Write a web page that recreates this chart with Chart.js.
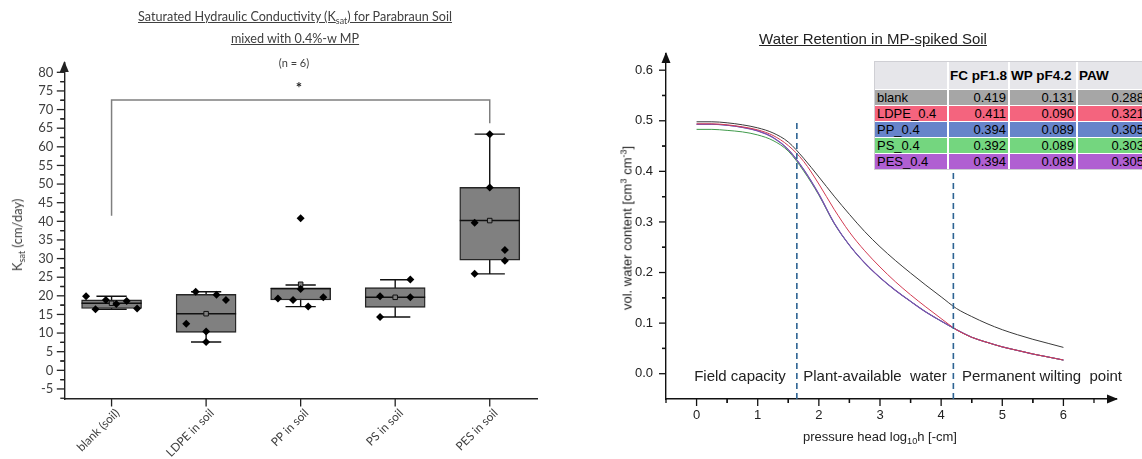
<!DOCTYPE html>
<html>
<head>
<meta charset="utf-8">
<script src="https://cdn.jsdelivr.net/npm/chart.js@4.4.1/dist/chart.umd.min.js"></script>
<style>
  body { margin: 0; background: #fff; }
  #wrap { position: relative; width: 1142px; height: 459px; overflow: hidden; }
  canvas { position: absolute; top: 0; }
  .txt { position: absolute; white-space: pre; text-align: center; }
  .cal { font-family: Lato, 'Open Sans', sans-serif; color: #404040; }
  .ari { font-family: 'Liberation Sans', Arial, sans-serif; color: #222; }
  .rot { transform: translate(-50%, -50%) rotate(-90deg); }
  sub { font-size: 70%; vertical-align: -0.3em; line-height: 0; }
  sup { font-size: 70%; vertical-align: 0.5em; line-height: 0; }
  #tbl { position: absolute; left: 874px; top: 61px; display: grid;
         grid-template-columns: 72px 59px 66px 68px; grid-template-rows: 27px repeat(5, 15px);
         column-gap: 2px; row-gap: 1px; border: 1px solid #cfcfd4; background: #fff;
         font-family: 'Liberation Sans', Arial, sans-serif; font-size: 13px; color: #000; }
  #tbl div { line-height: 15px; padding: 0 2px; white-space: pre; }
  #tbl .h { background: #e6e6ea; font-weight: bold; font-size: 13.5px; line-height: 27px; padding: 0 0 0 1px; overflow: hidden; }
  #tbl .n { text-align: right; }
</style>
</head>
<body>
<div id="wrap">
  <canvas id="ksat" width="560" height="459" style="left:0"></canvas>
  <canvas id="retention" width="562" height="459" style="left:580px"></canvas>

  <div class="txt cal" style="left:-5px;width:600px;top:8px;font-size:12.6px;line-height:18px;text-decoration:underline">Saturated Hydraulic Conductivity (K<sub>sat</sub>) for Parabraun Soil</div>
  <div class="txt cal" style="left:-5px;width:600px;top:30px;font-size:12.6px;line-height:18px;text-decoration:underline">mixed with 0.4%-w MP</div>
  <div class="txt cal" style="left:-6px;width:600px;top:55px;font-size:11px;line-height:16px">(n = 6)</div>
  <div class="txt cal" style="left:199px;width:200px;top:79px;font-size:15px;line-height:16px;font-weight:bold;color:#222">*</div>
  <div class="txt cal rot" style="left:17px;top:235px;font-size:13px">K<sub>sat</sub> (cm/day)</div>

  <div class="txt ari" style="left:573px;width:600px;top:29px;font-size:15px;line-height:20px;text-decoration:underline">Water Retention in MP-spiked Soil</div>
  <div class="txt ari rot" style="left:627px;top:228px;font-size:13px">vol. water content [cm<sup>3</sup> cm<sup>-3</sup>]</div>
  <div class="txt ari" style="left:730px;width:300px;top:428px;font-size:13px;line-height:18px">pressure head log<sub>10</sub>h [-cm]</div>
  <div class="txt ari" style="left:640px;width:200px;top:366px;font-size:15px;line-height:20px">Field capacity</div>
  <div class="txt ari" style="left:775px;width:200px;top:366px;font-size:15px;line-height:20px">Plant-available  water</div>
  <div class="txt ari" style="left:942px;width:200px;top:366px;font-size:15px;line-height:20px">Permanent wilting  point</div>

  <div id="tbl"></div>
</div>
<script>
// ---- left chart: Ksat box plots ----
const categories = ['blank (soil)', 'LDPE in soil', 'PP in soil', 'PS in soil', 'PES in soil'];
const boxQ1 = [16.6, 10.2, 18.9, 16.9, 29.6];
const boxQ3 = [18.9, 20.4, 22.0, 22.2, 49.1];
const boxMedian = [18.0, 15.2, 22.0, 19.6, 40.2];
const boxMean = [18.0, 15.2, 23.1, 19.6, 40.2];
const whiskerLow = [16.4, 7.6, 17.1, 14.3, 25.9];
const whiskerHigh = [19.9, 21.1, 22.9, 24.3, 63.4];

const blankKsat = [19.9, 16.4, 18.9, 17.8, 18.6, 16.6];
const ldpeKsat = [12.5, 21.1, 10.4, 7.6, 20.3, 18.9];
const ppKsat = [19.3, 18.9, 40.8, 21.8, 17.1, 19.6];
const psKsat = [14.3, 19.9, 24.4, 19.6];
const pesKsat = [63.4, 49.1, 39.6, 32.3, 29.4, 25.9];
const groupKsat = [blankKsat, ldpeKsat, ppKsat, psKsat, pesKsat];

// horizontal spread of the points inside each group (x units)
const jitter = [
    [-0.27, -0.17, -0.06, 0.05, 0.16, 0.27],
    [-0.21, -0.11, 0, 0, 0.11, 0.21],
    [-0.24, -0.08, 0, 0, 0.08, 0.24],
    [-0.16, -0.16, 0.16, 0.16],
    [0, 0, -0.16, 0.16, 0.16, -0.16]
];

// significance bracket blank vs PES
const bracketX = [1, 1, 5, 5];
const bracketY = [41.5, 72.6, 72.6, 66.3];

// ---- right chart: water retention curves ----
const pF = [0, 0.25, 0.5, 0.75, 1, 1.25, 1.5, 1.75, 2, 2.25, 2.5, 2.75, 3, 3.25, 3.5, 3.75, 4, 4.25, 4.5, 4.75, 5, 5.25, 5.5, 5.75, 6];
const thetaBlank = [0.498, 0.498, 0.496, 0.492, 0.486, 0.476, 0.458, 0.426, 0.389, 0.351, 0.315, 0.281, 0.251, 0.224, 0.199, 0.175, 0.152, 0.129, 0.113, 0.099, 0.087, 0.077, 0.068, 0.060, 0.052];
const thetaLdpe = [0.494, 0.494, 0.492, 0.488, 0.482, 0.471, 0.451, 0.420, 0.375, 0.325, 0.280, 0.243, 0.211, 0.182, 0.156, 0.132, 0.109, 0.087, 0.072, 0.062, 0.053, 0.046, 0.039, 0.033, 0.027];
const thetaPp = [0.493, 0.493, 0.491, 0.487, 0.480, 0.467, 0.443, 0.404, 0.355, 0.298, 0.254, 0.219, 0.190, 0.165, 0.143, 0.122, 0.104, 0.087, 0.072, 0.062, 0.053, 0.046, 0.039, 0.033, 0.027];
const thetaPs = [0.483, 0.483, 0.481, 0.478, 0.472, 0.461, 0.440, 0.401, 0.353, 0.297, 0.254, 0.219, 0.190, 0.165, 0.143, 0.122, 0.104, 0.087, 0.072, 0.062, 0.053, 0.046, 0.039, 0.033, 0.027];
const thetaPes = [0.493, 0.493, 0.491, 0.487, 0.480, 0.467, 0.443, 0.404, 0.355, 0.298, 0.254, 0.219, 0.190, 0.165, 0.143, 0.122, 0.104, 0.087, 0.072, 0.062, 0.053, 0.046, 0.039, 0.033, 0.027];
const boundaryPf = [1.64, 4.2];

// table values
const tableRows = ['blank', 'LDPE_0.4', 'PP_0.4', 'PS_0.4', 'PES_0.4'];
const tableFc = [0.419, 0.411, 0.394, 0.392, 0.394];
const tableWp = [0.131, 0.090, 0.089, 0.089, 0.089];
const tablePaw = [0.288, 0.321, 0.305, 0.303, 0.305];
const rowColors = ['#a6a6a6', '#f4647e', '#6784ca', '#74d67f', '#b05fd2'];

// table
const tbl = document.getElementById('tbl');
let html = '<div class="h"></div><div class="h">FC pF1.8</div><div class="h">WP pF4.2</div><div class="h">PAW</div>';
tableRows.forEach((r, i) => {
    const bg = `style="background:${rowColors[i]}"`;
    html += `<div ${bg}>${r}</div><div class="n" ${bg}>${tableFc[i].toFixed(3)}</div>` +
            `<div class="n" ${bg}>${tableWp[i].toFixed(3)}</div><div class="n" ${bg}>${tablePaw[i].toFixed(3)}</div>`;
});
tbl.innerHTML = html;

// ticks (major from the scale, minor half-way), axis arrows
const axisDecor = {
    id: 'axisDecor',
    afterDraw(chart, args, o) {
        const ctx = chart.ctx;
        const { left, right, top, bottom } = chart.chartArea;
        const xs = chart.scales.x, ys = chart.scales.y;
        ctx.save();
        ctx.strokeStyle = o.color;
        ctx.fillStyle = o.color;
        ctx.lineWidth = 1.3;
        const tick = (x1, y1, x2, y2) => { ctx.beginPath(); ctx.moveTo(x1, y1); ctx.lineTo(x2, y2); ctx.stroke(); };

        const yStep = ys.ticks[1].value - ys.ticks[0].value;
        ys.ticks.forEach(t => {
            const p = ys.getPixelForValue(t.value);
            tick(left - o.major, p, left, p);
            [t.value - yStep / 2, t.value + yStep / 2].forEach(v => {
                if (v > ys.min && v < ys.max) {
                    const q = ys.getPixelForValue(v);
                    tick(left - o.minor, q, left, q);
                }
            });
        });
        const xStep = xs.ticks.length > 1 ? xs.ticks[1].value - xs.ticks[0].value : 1;
        xs.ticks.forEach(t => {
            const p = xs.getPixelForValue(t.value);
            tick(p, bottom, p, bottom + o.major);
            if (o.xMinor) {
                [t.value - xStep / 2, t.value + xStep / 2].forEach(v => {
                    if (v >= xs.min - 1e-6 && v < xs.max) {
                        const q = xs.getPixelForValue(v);
                        tick(q, bottom, q, bottom + o.minor);
                    }
                });
            }
        });
        // arrow on y axis
        ctx.beginPath();
        ctx.moveTo(left, top - 2);
        ctx.lineTo(left - 4.5, top + 9);
        ctx.lineTo(left + 4.5, top + 9);
        ctx.closePath();
        ctx.fill();
        if (o.xArrow) {
            ctx.beginPath();
            ctx.moveTo(right + 2, bottom);
            ctx.lineTo(right - 9, bottom - 4.5);
            ctx.lineTo(right - 9, bottom + 4.5);
            ctx.closePath();
            ctx.fill();
        }
        ctx.restore();
    }
};

// whiskers, caps and medians of the box plots
const capHalf = 0.16;
const boxParts = {
    id: 'boxParts',
    beforeDatasetsDraw(chart) {
        const ctx = chart.ctx, xs = chart.scales.x, ys = chart.scales.y;
        ctx.save();
        ctx.strokeStyle = '#111';
        ctx.lineWidth = 1.4;
        categories.forEach((c, i) => {
            const x = xs.getPixelForValue(i + 1);
            const x0 = xs.getPixelForValue(i + 1 - capHalf), x1 = xs.getPixelForValue(i + 1 + capHalf);
            const lo = ys.getPixelForValue(whiskerLow[i]), hi = ys.getPixelForValue(whiskerHigh[i]);
            ctx.beginPath();
            ctx.moveTo(x, lo); ctx.lineTo(x, hi);
            ctx.moveTo(x0, lo); ctx.lineTo(x1, lo);
            ctx.moveTo(x0, hi); ctx.lineTo(x1, hi);
            ctx.stroke();
        });
        ctx.restore();
    },
    afterDatasetDraw(chart, args) {
        if (args.index !== 0) return;
        const ctx = chart.ctx, ys = chart.scales.y;
        ctx.save();
        ctx.strokeStyle = '#111';
        ctx.lineWidth = 1.4;
        args.meta.data.forEach((bar, i) => {
            const y = ys.getPixelForValue(boxMedian[i]);
            ctx.beginPath();
            ctx.moveTo(bar.x - bar.width / 2, y);
            ctx.lineTo(bar.x + bar.width / 2, y);
            ctx.stroke();
        });
        ctx.restore();
    }
};

const pointData = [];
groupKsat.forEach((vals, g) => vals.forEach((v, k) => pointData.push({ x: g + 1 + jitter[g][k], y: v })));

new Chart(document.getElementById('ksat'), {
    type: 'scatter',
    data: {
        datasets: [
            {
                type: 'bar',
                data: categories.map((c, i) => ({ x: i + 1, y: [boxQ1[i], boxQ3[i]] })),
                backgroundColor: '#808080',
                borderColor: '#262626',
                borderWidth: 1.4,
                borderSkipped: false,
                barThickness: 60,
                order: 3
            },
            {
                type: 'line',
                data: bracketX.map((x, i) => ({ x: x, y: bracketY[i] })),
                borderColor: '#7f7f7f',
                borderWidth: 1.5,
                pointRadius: 0,
                tension: 0,
                order: 4
            },
            {
                data: boxMean.map((m, i) => ({ x: i + 1, y: m })),
                pointStyle: 'rect',
                pointRadius: 3.2,
                backgroundColor: '#808080',
                borderColor: '#111',
                borderWidth: 1,
                order: 2
            },
            {
                data: pointData,
                pointStyle: 'rectRot',
                pointRadius: 4,
                backgroundColor: '#000',
                borderColor: '#000',
                borderWidth: 0,
                order: 1
            }
        ]
    },
    options: {
        responsive: false,
        animation: false,
        layout: { padding: { top: 63, right: 23, left: 0, bottom: 0 } },
        plugins: {
            legend: { display: false },
            tooltip: { enabled: false },
            axisDecor: { color: '#222', major: 7.5, minor: 4, xMinor: false, xArrow: false }
        },
        scales: {
            x: {
                type: 'linear', min: 0.5, max: 5.5, offset: false,
                grid: { display: false, drawTicks: false, offset: false },
                border: { color: '#222', width: 1.4 },
                afterBuildTicks: s => { s.ticks = categories.map((c, i) => ({ value: i + 1 })); },
                ticks: {
                    autoSkip: false,
                    minRotation: 45, maxRotation: 45, padding: 7, labelOffset: 6,
                    color: '#404040', font: { family: 'Lato', size: 11.8 },
                    callback: v => categories[Math.round(v) - 1] || ''
                },
                afterFit: s => { s.height = 60; }
            },
            y: {
                min: -7.7, max: 82.5,
                grid: { display: false, drawTicks: false },
                border: { color: '#222', width: 1.4 },
                ticks: {
                    stepSize: 5, includeBounds: false, padding: 11,
                    color: '#404040', font: { family: 'Lato', size: 13 }
                },
                afterFit: s => { s.width = 64.3; }
            }
        }
    },
    plugins: [axisDecor, boxParts]
});

// ---- right chart ----
const curve = (theta, color, width) => ({
    type: 'line',
    data: pF.map((x, i) => ({ x: x, y: theta[i] })),
    borderColor: color,
    borderWidth: width,
    pointRadius: 0,
    cubicInterpolationMode: 'monotone'
});
const boundary = x => ({
    type: 'line',
    data: [{ x: x, y: -0.05 }, { x: x, y: 0.497 }],
    borderColor: '#2d6393',
    borderWidth: 1.6,
    borderDash: [6, 4],
    pointRadius: 0
});

// Chart.js paints the first dataset on top, so the list runs top -> bottom
new Chart(document.getElementById('retention'), {
    type: 'scatter',
    data: {
        datasets: [
            boundary(boundaryPf[0]),
            boundary(boundaryPf[1]),
            curve(thetaLdpe, '#d23b52', 1),
            curve(thetaPes, '#7f4fae', 1.1),
            curve(thetaPp, '#4862c0', 1),
            curve(thetaPs, '#3f9a4a', 1),
            curve(thetaBlank, '#3a3a3a', 1)
        ]
    },
    options: {
        responsive: false,
        animation: false,
        layout: { padding: { top: 54, right: 26, left: 0, bottom: 0 } },
        plugins: {
            legend: { display: false },
            tooltip: { enabled: false },
            axisDecor: { color: '#111', major: 7, minor: 4, xMinor: true, xArrow: true }
        },
        scales: {
            x: {
                type: 'linear', min: -0.5, max: 6.86,
                grid: { display: false, drawTicks: false },
                border: { color: '#111', width: 1.4 },
                ticks: {
                    stepSize: 1, includeBounds: false, padding: 9,
                    color: '#222', font: { family: 'Liberation Sans', size: 13 }
                },
                afterFit: s => { s.height = 60; }
            },
            y: {
                min: -0.05, max: 0.632,
                grid: { display: false, drawTicks: false },
                border: { color: '#111', width: 1.4 },
                ticks: {
                    stepSize: 0.1, includeBounds: false, padding: 13,
                    color: '#222', font: { family: 'Liberation Sans', size: 13 },
                    callback: v => v.toFixed(1)
                },
                afterFit: s => { s.width = 86; }
            }
        }
    },
    plugins: [axisDecor]
});
</script>
</body>
</html>
